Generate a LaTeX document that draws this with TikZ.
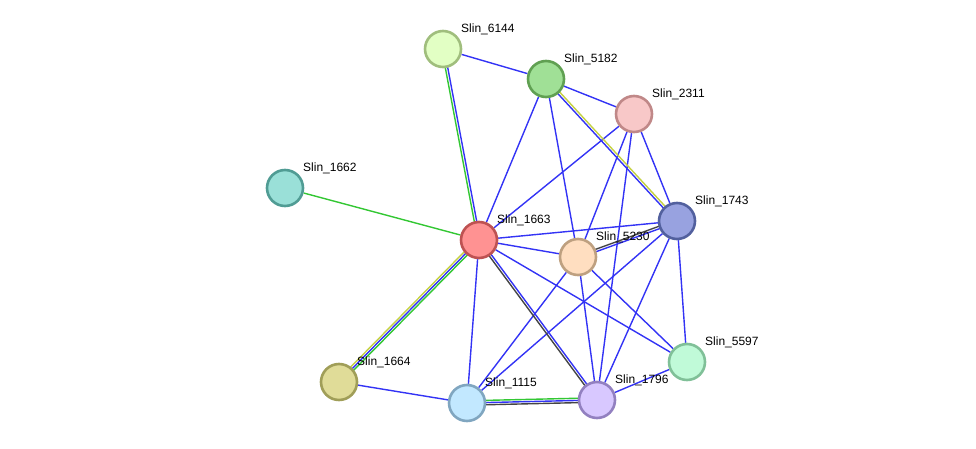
\documentclass[tikz,border=0pt]{standalone}
\usepackage{fontspec}
\setmainfont{Liberation Sans}
\usetikzlibrary{backgrounds,calc,positioning}

\definecolor{lblue}{HTML}{3333F5}
\definecolor{lgreen}{HTML}{33C733}
\definecolor{lyellow}{HTML}{C5D142}
\definecolor{lblack}{HTML}{444444}

% one coloured strand of a link, shifted sideways by #1
\newcommand\strand[4]{\draw[#4] ($(#2)!#1!90:(#3)$) -- ($(#3)!#1!-90:(#2)$);}

\begin{document}
\begin{tikzpicture}[x=1pt,y=-1pt,
    prot/.style={circle,draw,line width=2.6pt,minimum size=36pt,inner sep=0pt},
    lab/.style={font=\fontsize{12pt}{14pt}\selectfont,inner sep=0pt}]
  \useasboundingbox (0,0) rectangle (976,449);
  \begin{scope}[every node/.style={prot}]
    \node (s6144) [fill={rgb,255:red,226;green,255;blue,196},draw={rgb,255:red,160;green,190;blue,125}] at (443,49) {};
    \node (s5182) [fill={rgb,255:red,160;green,224;blue,150},draw={rgb,255:red,96;green,160;blue,82}] at (546,79) {};
    \node (s2311) [fill={rgb,255:red,248;green,200;blue,200},draw={rgb,255:red,192;green,136;blue,136}] at (634,114) {};
    \node (s1662) [fill={rgb,255:red,154;green,224;blue,216},draw={rgb,255:red,80;green,156;blue,148}] at (285,188) {};
    \node (s1743) [fill={rgb,255:red,152;green,162;blue,224},draw={rgb,255:red,82;green,96;blue,158}] at (677,221) {};
    \node (s1663) [fill={rgb,255:red,255;green,146;blue,146},draw={rgb,255:red,190;green,82;blue,82}] at (479,240) {};
    \node (s5230) [fill={rgb,255:red,255;green,222;blue,192},draw={rgb,255:red,190;green,160;blue,128}] at (578,257) {};
    \node (s5597) [fill={rgb,255:red,192;green,250;blue,216},draw={rgb,255:red,128;green,192;blue,152}] at (687,362) {};
    \node (s1664) [fill={rgb,255:red,224;green,220;blue,152},draw={rgb,255:red,160;green,158;blue,88}] at (339,382) {};
    \node (s1115) [fill={rgb,255:red,194;green,232;blue,255},draw={rgb,255:red,128;green,166;blue,192}] at (467,403) {};
    \node (s1796) [fill={rgb,255:red,216;green,200;blue,255},draw={rgb,255:red,146;green,128;blue,192}] at (597,400) {};
  \end{scope}
  \begin{scope}[on background layer,
      every edge/.style={draw=lblue,line width=1.4pt}]
    \path (s6144) edge (s5182);
    \path (s5182) edge (s2311);
    \path (s5182) edge (s1663);
    \path (s5182) edge (s5230);
    \path (s2311) edge (s1663);
    \path (s2311) edge (s5230);
    \path (s2311) edge (s1796);
    \path (s2311) edge (s1743);
    \path (s1743) edge (s1663);
    \path (s1743) edge (s5597);
    \path (s1743) edge (s1796);
    \path (s1743) edge (s1115);
    \path (s1663) edge (s5230);
    \path (s1663) edge (s5597);
    \path (s1663) edge (s1115);
    \path (s5230) edge (s1115);
    \path (s5230) edge (s1796);
    \path (s5230) edge (s5597);
    \path (s1796) edge (s5597);
    \path (s1664) edge (s1115);
    \path (s1662) edge[draw=lgreen] (s1663);
    % links with several strands
    \strand{-1.2pt}{s6144}{s1663}{lgreen,line width=1.4pt}
    \strand{1.2pt}{s6144}{s1663}{lblue,line width=1.4pt}
    \strand{1.2pt}{s5182}{s1743}{lyellow,line width=1.4pt}
    \strand{-1.2pt}{s5182}{s1743}{lblue,line width=1.4pt}
    \strand{-1.2pt}{s1743}{s5230}{lblack,line width=1.4pt}
    \strand{1.2pt}{s1743}{s5230}{lblue,line width=1.4pt}
    \strand{1.2pt}{s1663}{s1796}{lblue,line width=1.4pt}
    \strand{-1.2pt}{s1663}{s1796}{lblack,line width=1.4pt}
    \strand{-2.2pt}{s1663}{s1664}{lyellow,line width=1.4pt}
    \strand{0pt}{s1663}{s1664}{lblue,line width=1.4pt}
    \strand{2.2pt}{s1663}{s1664}{lgreen,line width=1.4pt}
    \strand{2.2pt}{s1115}{s1796}{lgreen,line width=1.4pt}
    \strand{0pt}{s1115}{s1796}{lblue,line width=1.4pt}
    \strand{-2.2pt}{s1115}{s1796}{lblack,line width=1.4pt}
  \end{scope}
  \begin{scope}[every node/.style={lab}]
    \node (t6144) [right=18pt of s6144.center,yshift=20pt] {Slin\_6144};
    \node (t5182) [right=18pt of s5182.center,yshift=20pt] {Slin\_5182};
    \node (t2311) [right=18pt of s2311.center,yshift=20pt] {Slin\_2311};
    \node (t1662) [right=18pt of s1662.center,yshift=20pt] {Slin\_1662};
    \node (t1743) [right=18pt of s1743.center,yshift=20pt] {Slin\_1743};
    \node (t1663) [right=18pt of s1663.center,yshift=20pt] {Slin\_1663};
    \node (t5230) [right=18pt of s5230.center,yshift=20pt] {Slin\_5230};
    \node (t5597) [right=18pt of s5597.center,yshift=20pt] {Slin\_5597};
    \node (t1664) [right=18pt of s1664.center,yshift=20pt] {Slin\_1664};
    \node (t1115) [right=18pt of s1115.center,yshift=20pt] {Slin\_1115};
    \node (t1796) [right=18pt of s1796.center,yshift=20pt] {Slin\_1796};
  \end{scope}
\end{tikzpicture}
\end{document}
